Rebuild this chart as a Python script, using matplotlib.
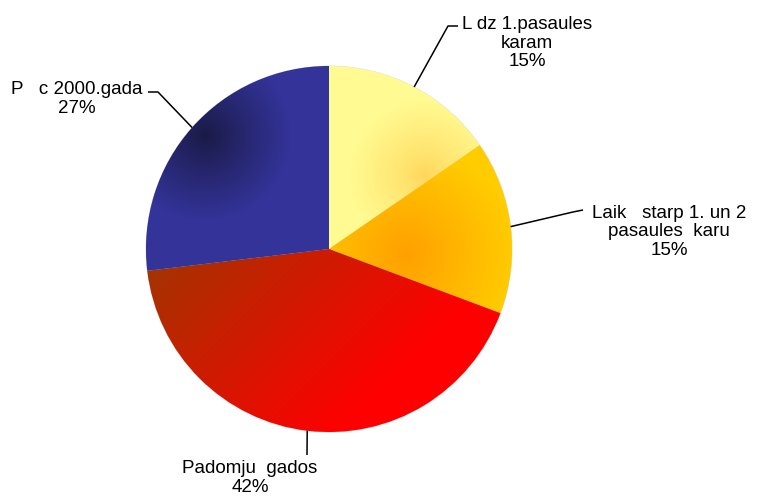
import numpy as np
import matplotlib
matplotlib.use('Agg')
import matplotlib.pyplot as plt

plt.rcParams['font.family'] = ['Liberation Sans', 'DejaVu Sans']

# ---- data ----
nosaukumi = ['L dz 1.pasaules\nkaram', 'Laik   starp 1. un 2\npasaules  karu',
             'Padomju  gados', 'P   c 2000.gada']
daļas = [15.4, 15.3, 42.4, 26.9]

W, H = 757, 500
cx, cy, R = 329, 249, 183   # pixel coords, y down


def lerp(c0, c1, t):
    c0 = np.array(c0) / 255.0
    c1 = np.array(c1) / 255.0
    return c0[None, None, :] * (1 - t[..., None]) + c1[None, None, :] * t[..., None]


# gradient fills, computed on pixel grid round the pie
xs = np.arange(cx - R - 2, cx + R + 3)
ys = np.arange(cy - R - 2, cy + R + 3)
X, Y = np.meshgrid(xs, ys)


def spot(px, py, rad):
    return np.clip(np.hypot(X - px, Y - py) / rad, 0, 1)


gradienti = [
    lerp((255, 214, 90), (255, 250, 145), spot(425, 175, 75) ** 0.8),
    lerp((255, 160, 0), (255, 204, 0), spot(405, 255, 110)),
    lerp((163, 52, 0), (255, 0, 0), np.clip(((X - 150) + (Y - 262)) / 360, 0, 1)),
    lerp((26, 26, 70), (51, 51, 153), spot(205, 135, 85) ** 0.9),
]

fig = plt.figure(figsize=(W / 100, H / 100), dpi=100)
ax = fig.add_axes([0, 0, 1, 1])
ax.set_xlim(0, W)
ax.set_ylim(0, H)
ax.set_aspect('equal')
ax.axis('off')

wedges, _ = ax.pie(daļas, startangle=90, counterclock=False, radius=R,
                   center=(cx, H - cy), colors=['#FFFA91', '#FFCC00', '#E01800', '#333399'],
                   wedgeprops=dict(linewidth=0.6, edgecolor='#dddddd'))
ax.set_xlim(0, W)
ax.set_ylim(0, H)

for w, g in zip(wedges, gradienti):
    im = ax.imshow(g, extent=(xs[0], xs[-1] + 1, H - ys[-1] - 1, H - ys[0]),
                   origin='upper', interpolation='bilinear', zorder=w.get_zorder() + 0.1)
    im.set_clip_path(w)

# labels: text centre and leader elbow (pixel coords)
teksti = [(527, 43), (669, 232), (250, 478), (77, 99)]
lokas = [[(448, 26), (458, 26)], [(573, 212), (583, 210)],
         [(307, 455)], [(158, 92), (148, 92)]]

for w, val, nos, (tx, ty), loks in zip(wedges, daļas, nosaukumi, teksti, lokas):
    ang = np.deg2rad((w.theta1 + w.theta2) / 2)
    sx, sy = cx + R * np.cos(ang), cy - R * np.sin(ang)
    pts = [(sx, sy)] + loks
    ax.plot([p[0] for p in pts], [H - p[1] for p in pts], color='black', lw=1.1,
            zorder=10, solid_capstyle='butt')
    ax.text(tx, H - ty, f'{nos}\n{val:.0f}%', ha='center', va='center',
            fontsize=13.5, linespacing=1.15, color='black')

fig.savefig('out.png', dpi=100)
